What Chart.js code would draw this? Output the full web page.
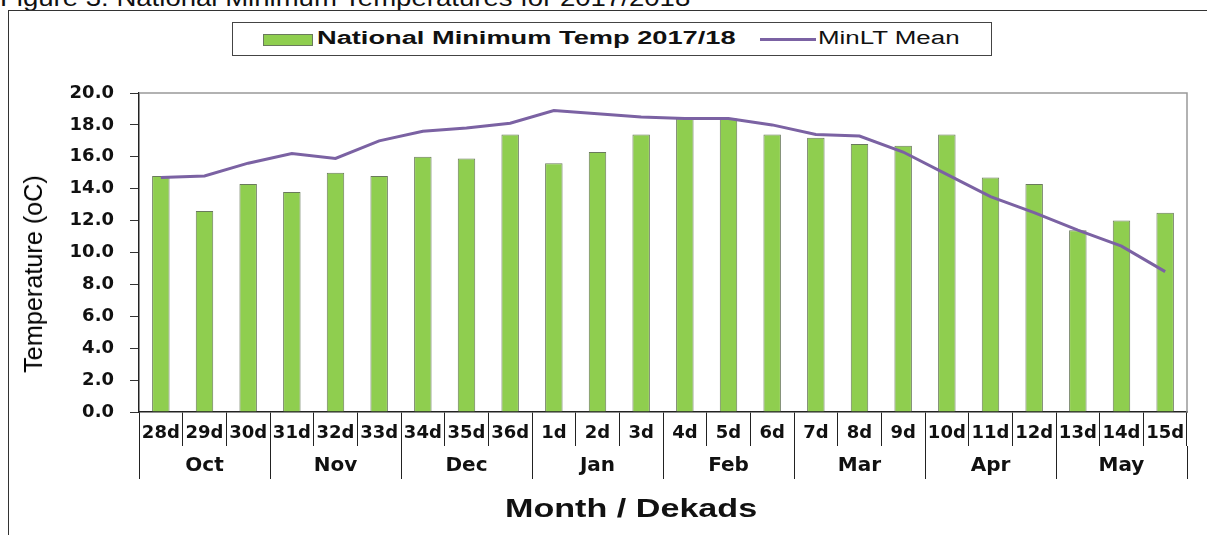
<!DOCTYPE html>
<html>
<head>
<meta charset="utf-8">
<script src="https://cdn.jsdelivr.net/npm/chart.js@4.4.0/dist/chart.umd.min.js"></script>
<style>
  html, body { margin: 0; padding: 0; background: #fff; }
  body { width: 1207px; height: 535px; position: relative; overflow: hidden; font-family: "Liberation Sans", Arial, sans-serif; color: #111; }
  #caption { position: absolute; left: 0; top: -16px; font-size: 24px; line-height: 28px; white-space: nowrap; transform-origin: left center; }
  #frame { position: absolute; left: 8px; top: 10px; width: 1300px; height: 700px; border: 1.5px solid #333; }
  #chartCanvas { position: absolute; left: 0; top: 0; }
  #legend { position: absolute; left: 232px; top: 22px; width: 758px; height: 32px; border: 1.5px solid #444; background: #fff; }
  .fit { position: absolute; white-space: nowrap; transform-origin: left center; }
  #swatchBar { position: absolute; left: 30px; top: 11px; width: 48px; height: 10px; background: #8fce4f; border: 1px solid #6a7a5c; }
  #swatchLine { position: absolute; left: 527px; top: 15px; width: 56px; height: 3px; background: #7b62a3; }
  #yTitle { position: absolute; left: 33px; top: 274px; font-size: 26px; line-height: 26px; white-space: nowrap; color: #000; }
  #xTitle { position: absolute; top: 493px; font-weight: bold; font-size: 26px; white-space: nowrap; transform-origin: left center; }
</style>
</head>
<body>
<div id="caption">Figure 3: National Minimum Temperatures for 2017/2018</div>
<div id="frame"></div>
<canvas id="chartCanvas" width="1207" height="535"></canvas>
<div id="legend">
  <div id="swatchBar"></div>
  <div class="fit" id="legBar" style="left:84px; top:5px; font-weight:bold; font-size:18px;">National Minimum Temp 2017/18</div>
  <div id="swatchLine"></div>
  <div class="fit" id="legLine" style="left:585px; top:5px; font-size:18px;">MinLT Mean</div>
</div>
<div id="yTitle">Temperature (oC)</div>
<div id="xTitle">Month / Dekads</div>
<script>
const dekads = ['28d', '29d', '30d', '31d', '32d', '33d', '34d', '35d', '36d', '1d', '2d', '3d',
                '4d', '5d', '6d', '7d', '8d', '9d', '10d', '11d', '12d', '13d', '14d', '15d'];
const months = ['Oct', 'Nov', 'Dec', 'Jan', 'Feb', 'Mar', 'Apr', 'May'];
const minTemp1718 = [14.8, 12.6, 14.3, 13.8, 15.0, 14.8, 16.0, 15.9, 17.4, 15.6, 16.3, 17.4,
                     18.4, 18.4, 17.4, 17.2, 16.8, 16.7, 17.4, 14.7, 14.3, 11.4, 12.0, 12.5];
const minLtMean = [14.7, 14.8, 15.6, 16.2, 15.9, 17.0, 17.6, 17.8, 18.1, 18.9, 18.7, 18.5,
                   18.4, 18.4, 18.0, 17.4, 17.3, 16.3, 14.9, 13.5, 12.5, 11.4, 10.4, 8.8];

// stretch the html texts to the widths seen in the picture
function fitWidth(id, width) {
    const el = document.getElementById(id);
    el.style.transform = 'scaleX(' + (width / el.offsetWidth) + ')';
}
fitWidth('caption', 690);
fitWidth('legBar', 419);
fitWidth('legLine', 141);
const xt = document.getElementById('xTitle');
xt.style.left = '505px';
fitWidth('xTitle', 252);

// y title: rotated, length about 198px along the axis
const yt = document.getElementById('yTitle');
const ytScale = 198 / yt.offsetWidth;
yt.style.transform = 'translate(-50%, -50%) rotate(-90deg) scaleX(' + ytScale + ')';

const tickFont = { family: 'DejaVu Sans', weight: 'bold', size: 18 };

// gray top and right edges of the plot area
const plotBorder = {
    id: 'plotBorder',
    beforeDatasetsDraw(chart) {
        const { ctx, chartArea } = chart;
        ctx.save();
        ctx.strokeStyle = '#999';
        ctx.lineWidth = 1.5;
        ctx.beginPath();
        ctx.moveTo(chartArea.left, chartArea.top);
        ctx.lineTo(chartArea.right, chartArea.top);
        ctx.lineTo(chartArea.right, chartArea.bottom);
        ctx.stroke();
        ctx.restore();
    }
};

const ctx = document.getElementById('chartCanvas').getContext('2d');
window.myChart = new Chart(ctx, {
    data: {
        labels: dekads,
        datasets: [{
            type: 'line',
            label: 'MinLT Mean',
            data: minLtMean,
            borderColor: '#7b62a3',
            borderWidth: 3,
            pointRadius: 0,
            tension: 0,
            order: 1
        }, {
            type: 'bar',
            label: 'National Minimum Temp 2017/18',
            data: minTemp1718,
            backgroundColor: '#8fce4f',
            borderColor: '#6a7a5c',
            borderWidth: 1,
            barPercentage: 0.4,
            categoryPercentage: 1,
            order: 2
        }]
    },
    options: {
        responsive: false,
        animation: false,
        layout: { padding: { top: 93, right: 20, bottom: 56, left: 0 } },
        plugins: {
            legend: { display: false },
            tooltip: { enabled: false }
        },
        scales: {
            x: {
                weight: 0,
                offset: true,
                grid: { offset: true, drawOnChartArea: false, tickLength: 34, color: '#222' },
                border: { color: '#222', width: 1.5 },
                ticks: { font: tickFont, color: '#111', padding: -23, maxRotation: 0, autoSkip: false },
                afterFit: s => { s.height = 34; }
            },
            x2: {
                type: 'category',
                position: 'bottom',
                weight: 1,
                labels: months,
                offset: true,
                grid: { offset: true, drawOnChartArea: false, tickLength: 33, color: '#222' },
                border: { display: false },
                ticks: { font: { family: 'DejaVu Sans', weight: 'bold', size: 20 }, color: '#111', padding: -25, maxRotation: 0, autoSkip: false },
                afterFit: s => { s.height = 33; }
            },
            y: {
                min: 0,
                max: 20,
                ticks: {
                    stepSize: 2,
                    callback: v => v.toFixed(1),
                    font: tickFont,
                    color: '#111',
                    padding: 16
                },
                grid: { drawOnChartArea: false, tickLength: 9, color: '#333' },
                border: { color: '#222', width: 1.5 },
                afterFit: s => { s.width = 139; }
            }
        }
    },
    plugins: [plotBorder]
});
</script>
</body>
</html>
